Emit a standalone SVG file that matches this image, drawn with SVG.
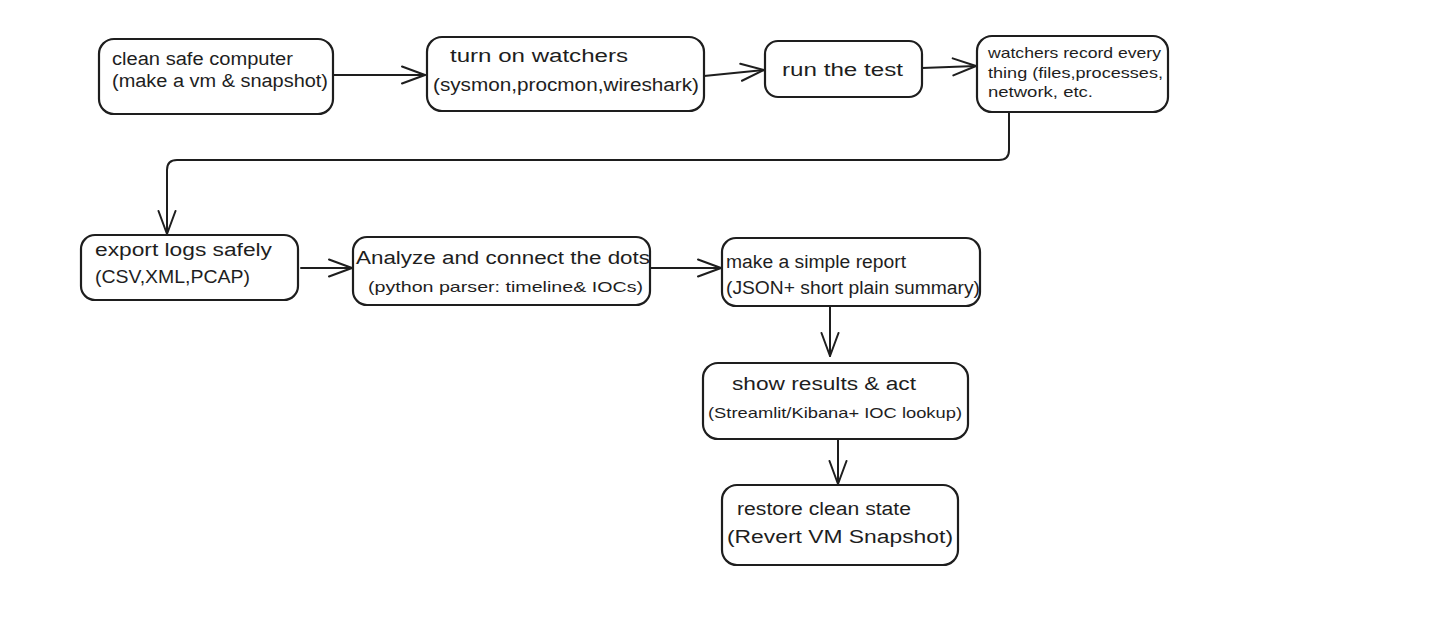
<svg xmlns="http://www.w3.org/2000/svg" width="1437" height="627" viewBox="0 0 1437 627">
<style>
.box{fill:#ffffff;stroke:#1e1e1e;stroke-width:2.2;}
.t{font-family:"Liberation Sans","DejaVu Sans",sans-serif;font-size:18px;fill:#1e1e1e;}
.s{font-family:"Liberation Sans","DejaVu Sans",sans-serif;font-size:15px;fill:#1e1e1e;}
.c{fill:none;stroke:#1e1e1e;stroke-width:2;stroke-linecap:round;stroke-linejoin:round;}
</style>
<defs>
<marker id="ah" viewBox="0 0 26 20" refX="25" refY="10" markerWidth="26" markerHeight="20" markerUnits="userSpaceOnUse" orient="auto">
<path d="M2,1.5 L25,10 L2,18.5" fill="none" stroke="#1e1e1e" stroke-width="2" stroke-linecap="round" stroke-linejoin="round"/>
</marker>
</defs>
<rect width="1437" height="627" fill="#ffffff"/>
<g id="connectors">
<path class="c" d="M333,75 L425,75" marker-end="url(#ah)"/>
<path class="c" d="M704,76 L764,70" marker-end="url(#ah)"/>
<path class="c" d="M922,68 L976,66" stroke-width="3" marker-end="url(#ah)"/>
<path class="c" d="M1009,112 V150 Q1009,160 999,160 H177 Q167,160 167,170 V234" marker-end="url(#ah)"/>
<path class="c" d="M301,268 L352,268" marker-end="url(#ah)"/>
<path class="c" d="M650,268 L721,268" marker-end="url(#ah)"/>
<path class="c" d="M830,307 L830,356" marker-end="url(#ah)"/>
<path class="c" d="M838,440 L838,484" marker-end="url(#ah)"/>
</g>
<g id="n1">
<rect class="box" x="99" y="39" width="234" height="75" rx="15"/>
<text class="t" x="112" y="65" textLength="181" lengthAdjust="spacingAndGlyphs">clean safe computer</text>
<text class="t" x="112" y="87" textLength="216" lengthAdjust="spacingAndGlyphs">(make a vm &amp; snapshot)</text>
</g>
<g id="n2">
<rect class="box" x="427" y="37" width="277" height="74" rx="15"/>
<text class="t" x="450" y="62" textLength="178" lengthAdjust="spacingAndGlyphs">turn on watchers</text>
<text class="t" x="433" y="91" textLength="266" lengthAdjust="spacingAndGlyphs">(sysmon,procmon,wireshark)</text>
</g>
<g id="n3">
<rect class="box" x="765" y="41" width="157" height="56" rx="13"/>
<text class="t" x="782" y="76" textLength="121" lengthAdjust="spacingAndGlyphs">run the test</text>
</g>
<g id="n4">
<rect class="box" x="977" y="36" width="191" height="76" rx="15"/>
<text class="s" x="988" y="58" textLength="173" lengthAdjust="spacingAndGlyphs">watchers record every</text>
<text class="s" x="988" y="78" textLength="175" lengthAdjust="spacingAndGlyphs">thing (files,processes,</text>
<text class="s" x="988" y="97" textLength="105" lengthAdjust="spacingAndGlyphs">network, etc.</text>
</g>
<g id="n5">
<rect class="box" x="81" y="235" width="217" height="65" rx="14"/>
<text class="t" x="95" y="256" textLength="177" lengthAdjust="spacingAndGlyphs">export logs safely</text>
<text class="t" x="95" y="283" textLength="155" lengthAdjust="spacingAndGlyphs">(CSV,XML,PCAP)</text>
</g>
<g id="n6">
<rect class="box" x="353" y="237" width="297" height="68" rx="14"/>
<text class="t" x="356" y="264" textLength="294" lengthAdjust="spacingAndGlyphs">Analyze and connect the dots</text>
<text class="s" x="368" y="292" textLength="275" lengthAdjust="spacingAndGlyphs">(python parser: timeline&amp; IOCs)</text>
</g>
<g id="n7">
<rect class="box" x="722" y="238" width="258" height="68" rx="14"/>
<text class="t" x="726" y="268" textLength="180" lengthAdjust="spacingAndGlyphs">make a simple report</text>
<text class="t" x="726" y="294" textLength="254" lengthAdjust="spacingAndGlyphs">(JSON+ short plain summary)</text>
</g>
<g id="n8">
<rect class="box" x="703" y="363" width="265" height="76" rx="15"/>
<text class="t" x="732" y="390" textLength="184" lengthAdjust="spacingAndGlyphs">show results &amp; act</text>
<text class="s" x="708" y="418" textLength="254" lengthAdjust="spacingAndGlyphs">(Streamlit/Kibana+ IOC lookup)</text>
</g>
<g id="n9">
<rect class="box" x="722" y="485" width="236" height="80" rx="15"/>
<text class="t" x="737" y="515" textLength="174" lengthAdjust="spacingAndGlyphs">restore clean state</text>
<text class="t" x="727" y="543" textLength="226" lengthAdjust="spacingAndGlyphs">(Revert VM Snapshot)</text>
</g>
</svg>
